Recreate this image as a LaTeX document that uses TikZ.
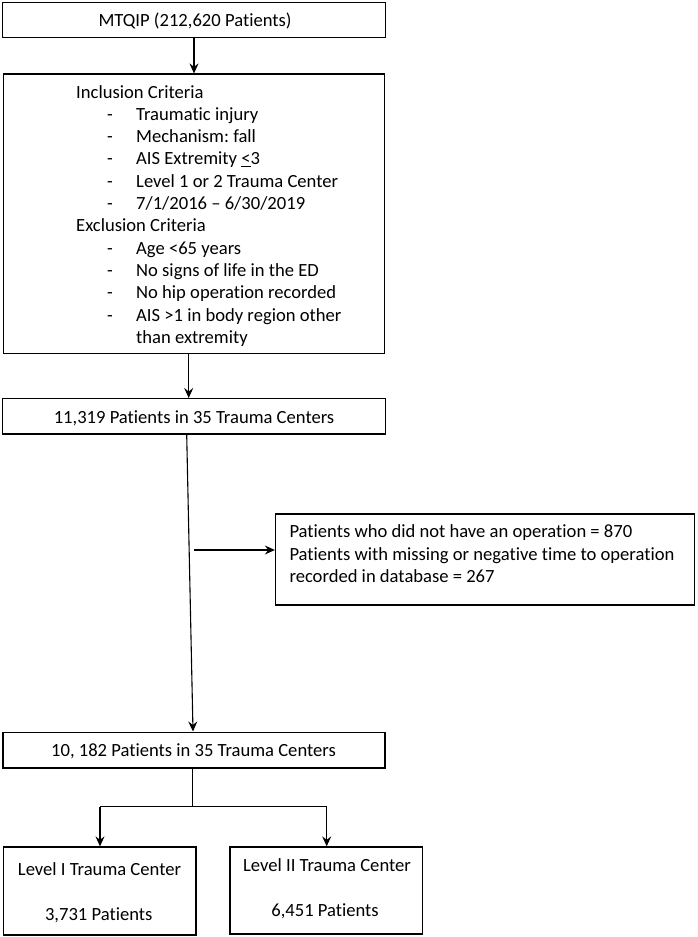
\documentclass[tikz,border=0pt]{standalone}
\usepackage{fontspec}
\setmainfont{Carlito}[Ligatures={NoCommon}]
\usetikzlibrary{arrows.meta}
\frenchspacing
\begin{document}
\begin{tikzpicture}[x=1pt,y=-1pt,
  box/.style={draw, line width=1.3pt, inner sep=0pt, minimum width=#1},
  txt/.style={anchor=base, inner sep=0pt, font=\fontsize{18.6}{22.3}\selectfont},
  ltxt/.style={anchor=base west, inner sep=0pt, font=\fontsize{18.6}{22.3}\selectfont},
  arr/.style={line width=1.1pt, -{Stealth[length=10pt,width=9pt,inset=3.5pt]}},
  ln/.style={line width=1.1pt}]
\useasboundingbox (0,0) rectangle (697,937);
% boxes
\node[box=383pt, minimum height=34.6pt] (box1) at (194,20) {};
\node[box=381pt, minimum height=279.3pt] (box2) at (193.8,213.7) {};
\node[box=383pt, minimum height=35.3pt] (box3) at (194.2,416.3) {};
\node[box=419pt, minimum height=91pt] (side) at (485,559.5) {};
\node[box=382pt, minimum height=35.7pt] (box4) at (194,750) {};
\node[box=192.7pt, minimum height=88pt] (left) at (99.6,891) {};
\node[box=192.7pt, minimum height=87pt] (right) at (326.3,890.5) {};
% texts
\node[txt] (t1) at (195,26) {MTQIP (212,620 Patients)};
\node[ltxt] (h1) at (76,98) {Inclusion Criteria};
\foreach \i/\t in {1/{Traumatic injury},2/{Mechanism: fall},3/{AIS Extremity \underline{<}3},4/{Level 1 or 2 Trauma Center},5/{7/1/2016 – 6/30/2019}}{
  \node[ltxt] (d\i) at (107,98+\i*22.3) {-};
  \node[ltxt] (i\i) at (136,98+\i*22.3) {\t};
}
\node[ltxt] (h2) at (76,98+6*22.3) {Exclusion Criteria};
\foreach \i/\t in {7/{Age <65 years},8/{No signs of life in the ED},9/{No hip operation recorded},10/{AIS >1 in body region other}}{
  \node[ltxt] (d\i) at (107,98+\i*22.3) {-};
  \node[ltxt] (i\i) at (136,98+\i*22.3) {\t};
}
\node[ltxt] (i11) at (136,98+11*22.3) {than extremity};
\node[txt] (t3) at (194,423.3) {11,319 Patients in 35 Trauma Centers};
\node[ltxt] (s1) at (289.3,537.3) {Patients who did not have an operation = 870};
\node[ltxt] (s2) at (289.3,560) {Patients with missing or negative time to operation};
\node[ltxt] (s3) at (289.3,582.7) {recorded in database = 267};
\node[txt] (t4) at (193.5,756.7) {10, 182 Patients in 35 Trauma Centers};
\node[txt] (l1) at (99.5,875.7) {Level I Trauma Center};
\node[txt] (l2) at (98.7,920) {3,731 Patients};
\node[txt] (r1) at (327,871) {Level II Trauma Center};
\node[txt] (r2) at (325,916) {6,451 Patients};
% connectors
\draw[arr] (box1.south) -- (box1.south |- box2.north);
\coordinate (c2) at ([xshift=-5.1pt]box2.south);
\draw[arr] (c2) -- (c2 |- box3.north);
\draw[arr] ([xshift=-7.5pt]box3.south) -- ([xshift=-1pt]box4.north);
\coordinate (s0) at (194,550);
\draw[arr] (s0) -- (s0 -| side.west);
\coordinate (j) at (192.3,806.7);
\coordinate (jl) at (100,806.7);
\coordinate (jr) at (326.7,806.7);
\draw[ln] (j |- box4.south) -- (j);
\draw[ln] (jl) -- (jr);
\draw[arr] (jl) -- (jl |- left.north);
\draw[arr] (jr) -- (jr |- right.north);
\end{tikzpicture}
\end{document}
